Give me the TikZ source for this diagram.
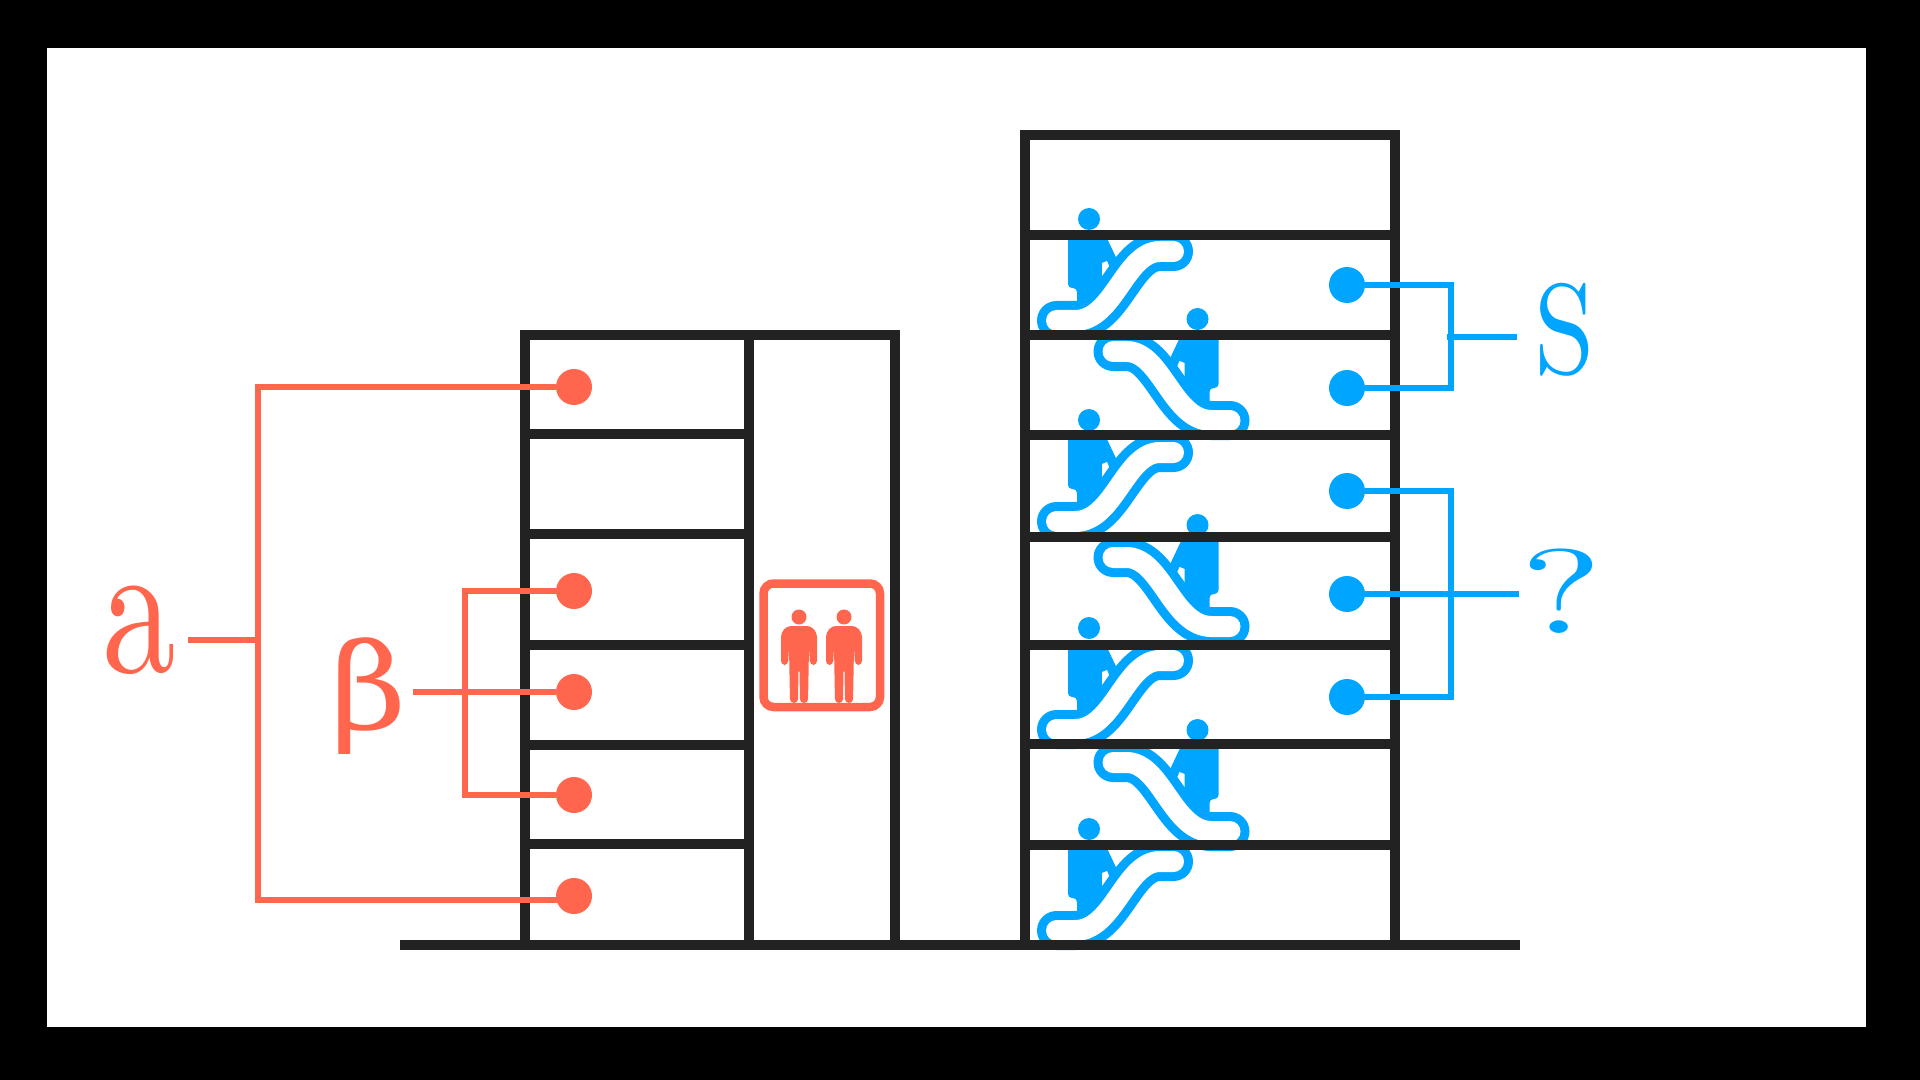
\documentclass[tikz,border=0pt]{standalone}
\usepackage{fontspec}
\newfontfamily\labelfont{lmroman10-regular.otf}
\newfontfamily\greekfont{DejaVu Serif}
\usepackage{tikz}

\definecolor{ink}{HTML}{222222}
\definecolor{coral}{HTML}{FF664D}
\definecolor{sky}{HTML}{00A5FF}

% one escalator with its rider, flipped through the scope options
\newcommand{\escalator}[1]{
    \begin{scope}[#1]
        \fill[sky] (1089,219) circle (11);
        \fill[sky, rounded corners=2pt] (1068,232) -- (1068,288) -- (1077,288) -- (1077,312) -- (1104,312) -- (1122,270) -- (1104,232) -- cycle;
        \fill[white] (1102,263) -- (1107,261) -- (1110,268) -- (1102,276) -- cycle;
        \draw[sky, line width=19.5pt, line cap=round] (1056.5,320.5) -- (1075,320.5) .. controls (1114,320.5) and (1125,251.5) .. (1160,251.5) -- (1173.5,251.5);
        \draw[white, line width=10.5pt, line cap=round] (1056.5,320.5) -- (1075,320.5) .. controls (1114,320.5) and (1125,251.5) .. (1160,251.5) -- (1173.5,251.5);
    \end{scope}
}
% one passenger of the lift sign
\newcommand{\liftperson}[1]{
    \begin{scope}[shift={(#1,0)}]
        \fill[coral] (0,617) circle (7.5);
        \fill[coral, rounded corners=2pt] (-18,633) -- (-12,626) -- (12,626) -- (18,633) -- (18,665) -- (11,665) -- (10,647) -- (9,703) -- (1,703) -- (0.5,668) -- (-0.5,668) -- (-1,703) -- (-9,703) -- (-10,647) -- (-11,665) -- (-18,665) -- cycle;
    \end{scope}
}

\begin{document}
\begin{tikzpicture}[x=0.5pt, y=-0.5pt, wall/.style={draw=ink, line width=5pt},
    reddot/.style={circle, fill=coral, minimum size=18pt, inner sep=0pt},
    bluedot/.style={circle, fill=sky, minimum size=18pt, inner sep=0pt},
    redline/.style={draw=coral, line width=3pt},
    blueline/.style={draw=sky, line width=3pt}]
    \fill[black] (0,0) rectangle (1920,1080);
    \fill[white] (47,48) rectangle (1866,1027);

    % escalators go under the floors
    \escalator{shift={(0,0)}}
    \escalator{shift={(0,201)}}
    \escalator{shift={(0,409)}}
    \escalator{shift={(0,610)}}
    \escalator{shift={(2286.5,100)}, xscale=-1}
    \escalator{shift={(2286.5,306)}, xscale=-1}
    \escalator{shift={(2286.5,511)}, xscale=-1}

    % left building
    \draw[wall] (525,944) -- (525,335) -- (895,335) -- (895,944);
    \draw[wall] (749,335) -- (749,944);
    \draw[wall] (525,434) -- (749,434);
    \draw[wall] (525,534) -- (749,534);
    \draw[wall] (525,645) -- (749,645);
    \draw[wall] (525,745) -- (749,745);
    \draw[wall] (525,844) -- (749,844);

    % right building
    \draw[wall] (1025,944) -- (1025,135) -- (1395,135) -- (1395,944);
    \draw[wall] (1025,235) -- (1395,235);
    \draw[wall] (1025,335) -- (1395,335);
    \draw[wall] (1025,435) -- (1395,435);
    \draw[wall] (1025,537) -- (1395,537);
    \draw[wall] (1025,645) -- (1395,645);
    \draw[wall] (1025,744) -- (1395,744);
    \draw[wall] (1025,845) -- (1395,845);

    % ground
    \draw[wall] (400,945) -- (1520,945);

    % lift sign
    \draw[draw=coral, line width=4.25pt, rounded corners=5pt] (763.5,583.5) rectangle (880,707);
    \liftperson{799}
    \liftperson{844}

    % dots
    \node[reddot] (R1) at (574,387) {};
    \node[reddot] (R2) at (574,591) {};
    \node[reddot] (R3) at (574,692) {};
    \node[reddot] (R4) at (574,795) {};
    \node[reddot] (R5) at (574,896) {};
    \node[bluedot] (B1) at (1347,285) {};
    \node[bluedot] (B2) at (1347,388) {};
    \node[bluedot] (B3) at (1347,491) {};
    \node[bluedot] (B4) at (1347,594) {};
    \node[bluedot] (B5) at (1347,697) {};

    % labels
    \node[text=coral, inner sep=0pt, xscale=0.8, yscale=1.05, transform shape, font=\labelfont\fontsize{92}{100}\selectfont] (LA) at (139,630) {a};
    \node[text=coral, inner sep=0pt, xscale=1.1, transform shape, font=\greekfont\fontsize{60}{70}\selectfont] (LB) at (369,696) {β};
    \node[text=sky, inner sep=0pt, xscale=0.85, transform shape, font=\labelfont\fontsize{64}{70}\selectfont] (LS) at (1565,330) {S};
    \node[text=sky, inner sep=0pt, xscale=1.45, transform shape, font=\labelfont\fontsize{60}{70}\selectfont] (LQ) at (1562,591) {?};

    % brackets
    \coordinate (AT) at (258,640);
    \coordinate (AS) at (188,640);
    \coordinate (BS) at (413,692);
    \coordinate (ST) at (1447,337);
    \coordinate (SS) at (1517,337);
    \coordinate (QS) at (1519,594);
    \coordinate (RB) at (258,900);
    \draw[redline] (R1) -- (258,387) -- (RB) -- (R5.center |- RB);
    \draw[redline] (AS) -- (AT);
    \draw[redline] (R2) -- (465,591) -- (465,795) -- (R4);
    \draw[redline] (BS) -- (R3);
    \draw[blueline] (B1) -- (1451,285) -- (1451,388) -- (B2);
    \draw[blueline] (ST) -- (SS);
    \draw[blueline] (B3) -- (1451,491) -- (1451,697) -- (B5);
    \draw[blueline] (B4) -- (QS);
\end{tikzpicture}
\end{document}
